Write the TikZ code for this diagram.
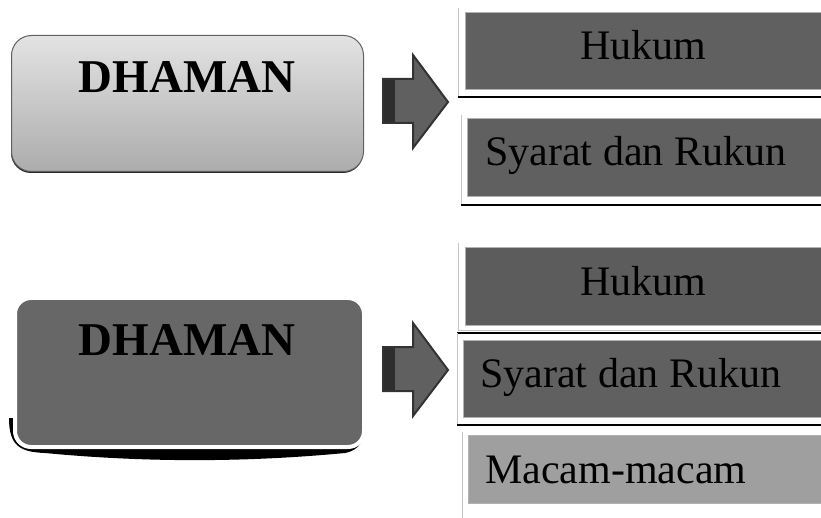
\documentclass[tikz,border=0pt]{standalone}
\usepackage{fontspec}
\setmainfont{Liberation Serif}
\usetikzlibrary{positioning}
\definecolor{kotakgelap}{HTML}{606060}
\definecolor{kotakgelapb}{HTML}{5C5C5C}
\definecolor{kotakterang}{HTML}{9F9F9F}
\definecolor{dhabu}{HTML}{676767}
\definecolor{panahisi}{HTML}{606060}
\definecolor{panahgaris}{HTML}{333333}

\tikzset{
  kotak/.style={rectangle, inner sep=0pt, anchor=north west, fill=#1, draw=gray!60, line width=0.6pt},
  judul/.style={inner sep=0pt, font=\fontsize{47}{50}\selectfont\bfseries},
  isi/.style={inner sep=0pt, font=\fontsize{42}{46}\selectfont},
  tepikiri/.style={draw=gray!45, line width=1pt},
  tepibawah/.style={draw=black, line width=2.2pt},
  panah/.style={fill=panahisi, draw=panahgaris, line width=2pt, line join=miter},
}

\begin{document}
\begin{tikzpicture}[x=1pt, y=-1pt]
    \useasboundingbox (0,0) rectangle (821,518);

    % Kotak DHAMAN atas (gradasi)
    \fill[black!85, rounded corners=20pt] (11,38) rectangle (363,173);
    \node[rectangle, anchor=north west, rounded corners=20pt, minimum width=352pt, minimum height=136pt,
          top color=gray!22, bottom color=gray!65, draw=gray!75!black, line width=1pt] (dh1) at (11,35) {};
    \node[judul, anchor=base] (dhteks1) at (187,93) {DHAMAN};

    % Kotak DHAMAN bawah (bayangan melengkung)
    \fill[black] (9,418) .. controls (9,446) and (20,452) .. (45,453)
        .. controls (150,463) and (250,462) .. (345,453)
        .. controls (360,450) and (366,440) .. (365,420) -- cycle;
    \node[rectangle, anchor=north west, rounded corners=16pt, minimum width=349pt, minimum height=149pt,
          fill=dhabu, draw=white, line width=4pt] (dh2) at (13,296) {};
    \node[judul, anchor=base] (dhteks2) at (187,355) {DHAMAN};

    % Panah blok
    \foreach \dy/\nama in {0/atas, 268/bawah} {
        \begin{scope}[yshift=-\dy pt]
            \path[panah] (383,79) -- (413,79) -- (413,55) -- (448,102) -- (413,148)
                -- (413,123) -- (383,123) -- cycle;
            \fill[black!82] (384,80) rectangle (395,122);
            \coordinate (ujung\nama) at (448,102);
        \end{scope}
    }

    % Cabang atas
    \node[kotak=kotakgelap, minimum width=356pt, minimum height=77pt] (hukum1) at (465,12) {};
    \draw[tepikiri] (458,8) -- (458,97);
    \draw[tepibawah] (458,97) -- (821,97);
    \node[isi, anchor=base] (hukumteks1) at (643,60) {Hukum};

    \node[kotak=kotakgelap, minimum width=354pt, minimum height=78pt] (syarat1) at (467,118) {};
    \draw[tepikiri] (461,115) -- (461,205);
    \draw[tepibawah] (461,205) -- (821,205);
    \node[isi, anchor=base west] (syaratteks1) at (485,166) {Syarat dan Rukun};

    % Cabang bawah
    \node[kotak=kotakgelapb, minimum width=356pt, minimum height=78pt] (hukum2) at (465,247) {};
    \draw[tepikiri] (458,243) -- (458,330) -- (821,330);
    \node[isi, anchor=base] (hukumteks2) at (643,295) {Hukum};

    \node[kotak=kotakgelap, minimum width=358pt, minimum height=77pt] (syarat2) at (463,340) {};
    \draw[black, line width=1.2pt] (457,333) -- (821,333);
    \draw[tepikiri] (457,333) -- (457,426);
    \draw[tepibawah] (457,425) -- (821,425);
    \node[isi, anchor=base west] (syaratteks2) at (480,387) {Syarat dan Rukun};

    \node[kotak=kotakterang, minimum width=353pt, minimum height=68pt] (macam) at (468,435) {};
    \draw[tepikiri] (462,432) -- (462,518);
    \node[isi, anchor=base west] (macamteks) at (485,483) {Macam-macam};
\end{tikzpicture}
\end{document}
